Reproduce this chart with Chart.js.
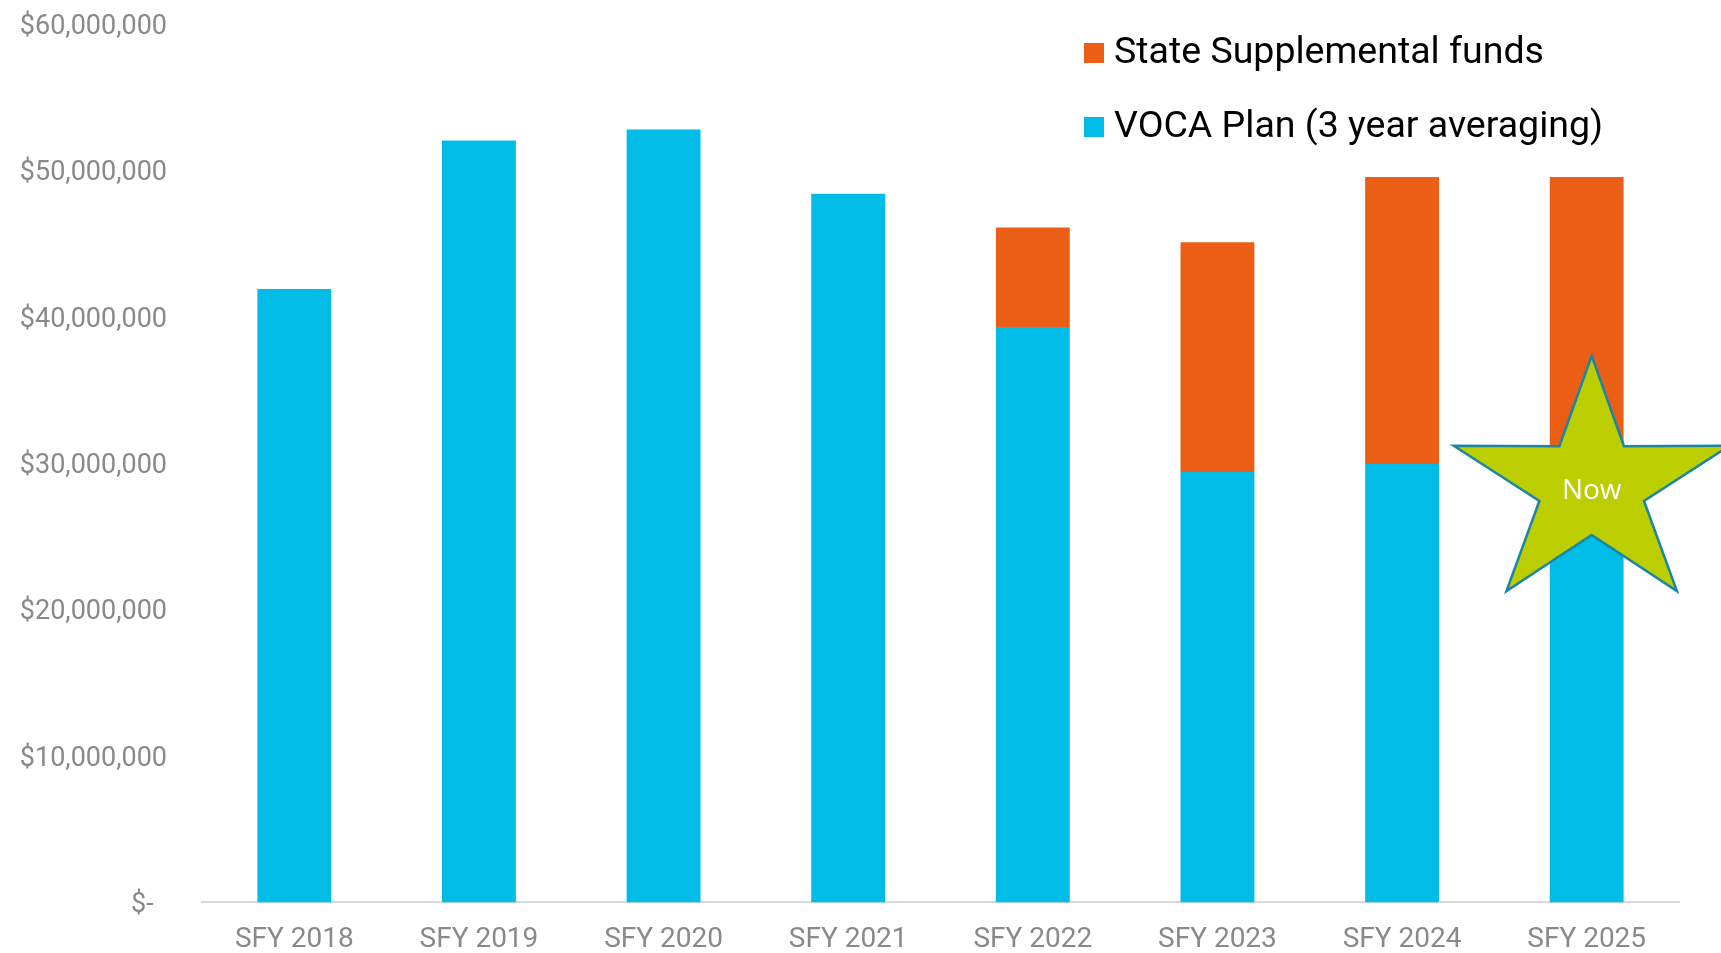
<!DOCTYPE html>
<html>
<head>
<meta charset="utf-8">
<script src="https://cdn.jsdelivr.net/npm/chart.js@4.4.0/dist/chart.umd.min.js"></script>
<style>
    html, body { margin: 0; padding: 0; background: #fff; }
    #wrap { width: 1721px; height: 953px; }
</style>
</head>
<body>
<div id="wrap"><canvas id="fundingChart"></canvas></div>
<script>
// Funding by state fiscal year
const years = ['SFY 2018', 'SFY 2019', 'SFY 2020', 'SFY 2021', 'SFY 2022', 'SFY 2023', 'SFY 2024', 'SFY 2025'];
const vocaPlan = [41900000, 52050000, 52800000, 48400000, 39300000, 29400000, 29950000, 29950000];
const stateSupplemental = [0, 0, 0, 0, 6800000, 15700000, 19600000, 19600000];

const yTicks = [0, 10000000, 20000000, 30000000, 40000000, 50000000, 60000000];

// "Now" marker sits on the current year
const nowMarker = { category: 'SFY 2025', value: 28450000, label: 'Now' };

const BLUE = '#00BCE7';
const ORANGE = '#EB5E16';
const GREY = '#898989';

// Legend drawn inside the plot, top right, orange entry first
const insideLegend = {
    id: 'insideLegend',
    afterDraw(chart) {
        const ctx = chart.ctx;
        const left = chart.chartArea.right - 595;
        let rowY = 53;
        ctx.save();
        ctx.font = '37.5px Roboto';
        ctx.textBaseline = 'middle';
        ctx.textAlign = 'left';
        const items = chart.data.datasets.slice().reverse();
        items.forEach(ds => {
            ctx.fillStyle = ds.backgroundColor;
            ctx.fillRect(left, rowY - 10, 20, 20);
            ctx.fillStyle = '#000';
            ctx.fillText(ds.label, left + 30, rowY + 1);
            rowY += 74;
        });
        ctx.restore();
    }
};

// Five-point star annotation over the current year
const nowStar = {
    id: 'nowStar',
    afterDatasetsDraw(chart) {
        const { ctx, scales: { x, y } } = chart;
        const cx = x.getPixelForValue(years.indexOf(nowMarker.category)) + 5;
        const cy = y.getPixelForValue(nowMarker.value);
        const outer = { x: 145, y: 130 };
        const inner = { x: 55, y: 49 };

        ctx.save();
        ctx.beginPath();
        for (let i = 0; i < 10; i++) {
            const a = -Math.PI / 2 + i * Math.PI / 5;
            const r = i % 2 === 0 ? outer : inner;
            const px = cx + r.x * Math.cos(a);
            const py = cy + r.y * Math.sin(a);
            if (i === 0) ctx.moveTo(px, py); else ctx.lineTo(px, py);
        }
        ctx.closePath();
        ctx.fillStyle = '#BCCE00';
        ctx.fill();
        ctx.lineWidth = 2.5;
        ctx.strokeStyle = '#1A86A6';
        ctx.lineJoin = 'miter';
        ctx.stroke();

        ctx.fillStyle = '#fff';
        ctx.font = '28px "Open Sans"';
        ctx.textAlign = 'center';
        ctx.textBaseline = 'middle';
        ctx.fillText(nowMarker.label, cx, cy + 5);
        ctx.restore();
    }
};

const fmtDollar = (v) => v === 0 ? '$-  ' : '$' + v.toLocaleString('en-US');

new Chart(document.getElementById('fundingChart'), {
    type: 'bar',
    data: {
        labels: years,
        datasets: [
            {
                label: 'VOCA Plan (3 year averaging)',
                data: vocaPlan,
                backgroundColor: BLUE,
                barPercentage: 0.4,
                categoryPercentage: 1
            },
            {
                label: 'State Supplemental funds',
                data: stateSupplemental,
                backgroundColor: ORANGE,
                barPercentage: 0.4,
                categoryPercentage: 1
            }
        ]
    },
    options: {
        responsive: true,
        maintainAspectRatio: false,
        animation: false,
        layout: { padding: { top: 24, right: 42, bottom: 0, left: 0 } },
        plugins: {
            legend: { display: false },
            tooltip: { enabled: false }
        },
        scales: {
            x: {
                stacked: true,
                grid: { display: false, drawTicks: false },
                border: { display: true, color: '#D9D9D9', width: 2 },
                ticks: {
                    color: GREY,
                    font: { family: 'Roboto', size: 28 },
                    padding: 21,
                    maxRotation: 0
                },
                // fit() counts the tick padding twice; drop the extra
                afterFit: (scale) => { scale.height -= 25; }
            },
            y: {
                stacked: true,
                min: 0,
                max: 60000000,
                grid: { display: false, drawTicks: false },
                border: { display: false },
                afterBuildTicks: (scale) => {
                    scale.ticks = yTicks.map(v => ({ value: v }));
                },
                afterFit: (scale) => {
                    scale.width = 202;
                    // labels may overhang the plot top/bottom
                    scale.paddingTop = 0;
                    scale.paddingBottom = 0;
                },
                ticks: {
                    color: GREY,
                    font: { family: 'Roboto', size: 27 },
                    padding: 35,
                    labelOffset: 3,
                    callback: fmtDollar
                }
            }
        }
    },
    plugins: [nowStar, insideLegend]
});
</script>
</body>
</html>
